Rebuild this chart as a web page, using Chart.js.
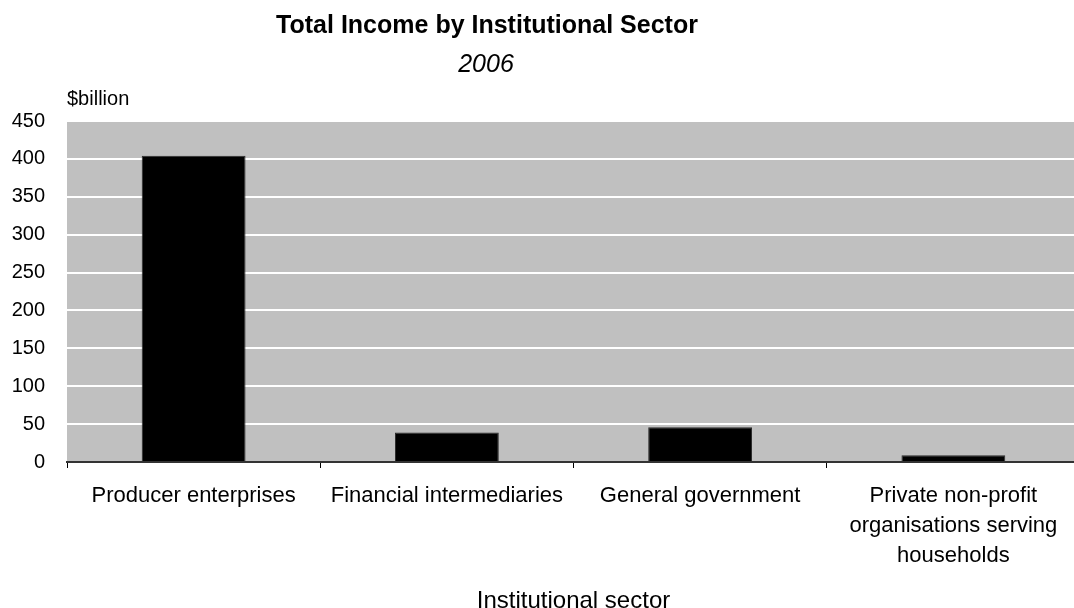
<!DOCTYPE html>
<html>
<head>
<meta charset="utf-8">
<title>Total Income by Institutional Sector</title>
<script src="https://cdn.jsdelivr.net/npm/chart.js@4/dist/chart.umd.min.js"></script>
<style>
  html, body { margin: 0; padding: 0; background: #fff; overflow: hidden; }
  canvas { display: block; }
</style>
</head>
<body>
<canvas id="chart" width="1082" height="608"></canvas>
<script>
  // income by sector, $billion
  const sectors = [
      'Producer enterprises',
      'Financial intermediaries',
      'General government',
      ['Private non-profit', 'organisations serving', 'households']
  ];
  const income = [404, 39, 46, 9];
  const yTicks = [0, 50, 100, 150, 200, 250, 300, 350, 400, 450];

  const chartTitle = 'Total Income by Institutional Sector';
  const chartSubtitle = '2006';
  const unitLabel = '$billion';
  const xTitle = 'Institutional sector';

  const FONT = "'Liberation Sans', Arial, sans-serif";

  const captions = {
      id: 'captions',
      beforeDraw: (chart) => {
          const ctx = chart.ctx, area = chart.chartArea;
          ctx.save();
          // grey plot background
          ctx.fillStyle = '#c0c0c0';
          ctx.fillRect(area.left, area.top, area.right - area.left, area.bottom - area.top);
          ctx.restore();
      },
      afterDraw: (chart) => {
          const ctx = chart.ctx;
          ctx.save();
          ctx.fillStyle = '#000';
          ctx.textAlign = 'center';
          ctx.textBaseline = 'alphabetic';
          ctx.font = `bold 25px ${FONT}`;
          ctx.fillText(chartTitle, 487, 33);
          ctx.font = `italic 25px ${FONT}`;
          ctx.fillText(chartSubtitle, 486, 72);
          ctx.textAlign = 'left';
          ctx.font = `20px ${FONT}`;
          ctx.fillText(unitLabel, 67, 105);
          ctx.restore();
      }
  };

  new Chart(document.getElementById('chart'), {
      type: 'bar',
      data: {
          labels: sectors,
          datasets: [{
              data: income,
              backgroundColor: '#000',
              borderColor: '#2a2a2a',
              borderWidth: 1,
              categoryPercentage: 1,
              barPercentage: 0.41
          }]
      },
      plugins: [captions],
      options: {
          responsive: false,
          animation: false,
          devicePixelRatio: 1,
          layout: {
              padding: {top: 121, right: 2, left: 0, bottom: 0}
          },
          plugins: {
              legend: {display: false},
              tooltip: {enabled: false},
              title: {display: false}
          },
          scales: {
              x: {
                  grid: {
                      offset: true,
                      drawOnChartArea: false,
                      drawTicks: true,
                      tickLength: 6,
                      color: '#000',
                      lineWidth: 1
                  },
                  border: {display: true, color: '#333', width: 2},
                  ticks: {
                      color: '#000',
                      font: {family: FONT, size: 22, lineHeight: 1.36},
                      padding: 13,
                      maxRotation: 0,
                      autoSkip: false
                  },
                  title: {
                      display: true,
                      text: xTitle,
                      color: '#000',
                      font: {family: FONT, size: 24},
                      padding: {top: 0, bottom: -8}
                  },
                  afterFit: (scale) => { scale.height = 146; }
              },
              y: {
                  min: 0,
                  max: 450,
                  afterBuildTicks: (scale) => {
                      scale.ticks = yTicks.map(v => ({value: v}));
                  },
                  grid: {
                      color: '#fff',
                      lineWidth: 2,
                      drawTicks: false
                  },
                  border: {display: false},
                  ticks: {
                      color: '#000',
                      font: {family: FONT, size: 20},
                      padding: 22
                  },
                  afterFit: (scale) => { scale.width = 67; }
              }
          }
      }
  });
</script>
</body>
</html>
